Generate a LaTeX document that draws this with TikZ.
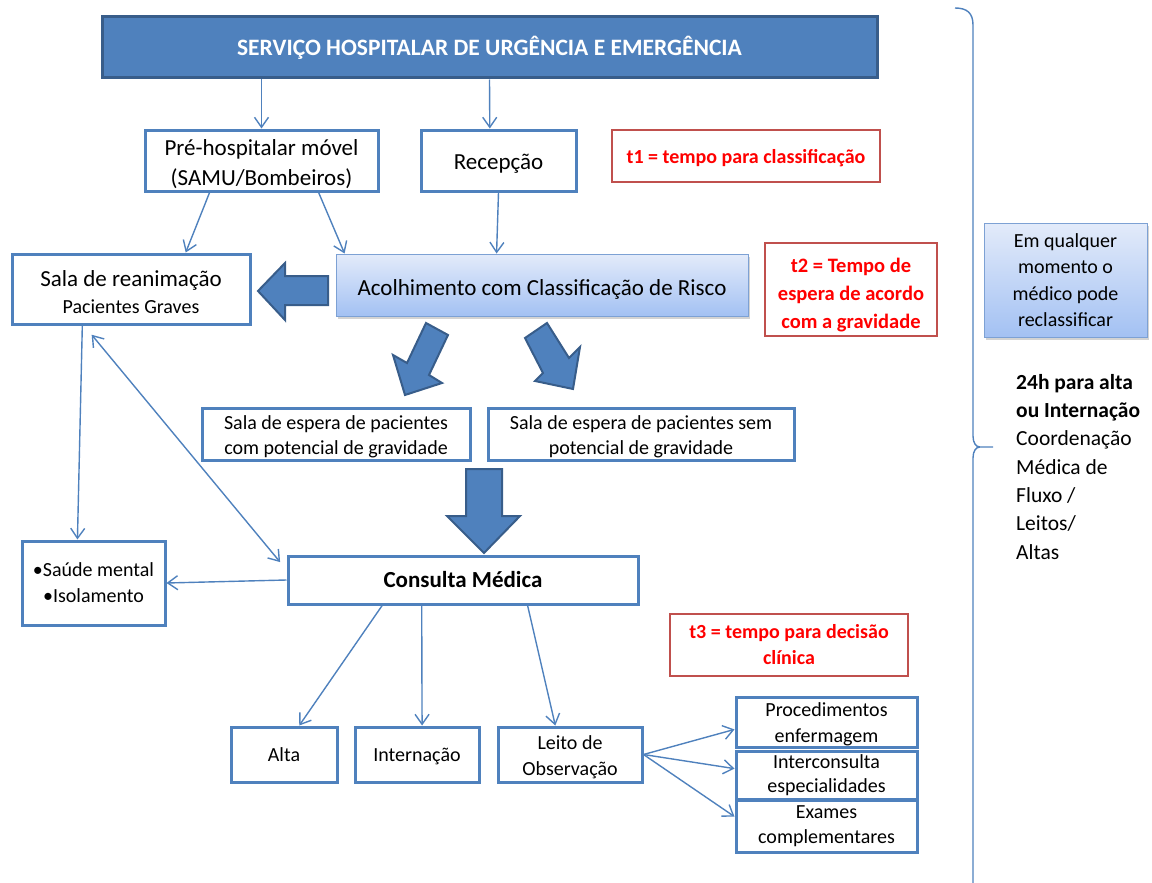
\documentclass[tikz,border=0pt]{standalone}
\usepackage{fontspec}
\setmainfont{Carlito}
\usetikzlibrary{arrows.meta,calc,shadows}
\definecolor{bblue}{HTML}{4F81BD}
\definecolor{dblue}{HTML}{385D8A}
\definecolor{rborder}{HTML}{C0504D}
\definecolor{rtext}{HTML}{FF0000}
\definecolor{gtop}{HTML}{E3EBFA}
\definecolor{gbot}{HTML}{A3C1F3}
\definecolor{gline}{HTML}{7DA1D4}
\newcommand{\lowr}[1]{\rule{0pt}{#1}}
\tikzset{
  box/.style={draw=bblue, line width=3pt, fill=white, align=center, inner sep=0pt},
  tbox/.style={draw=rborder, line width=2.5pt, fill=white, align=center, inner sep=0pt, text=rtext, font=\bfseries\fontsize{20}{26}\selectfont},
  gbox/.style={draw=gline, line width=1pt, top color=gtop, bottom color=gbot, align=center, inner sep=0pt,
     drop shadow={shadow xshift=2pt, shadow yshift=-3pt, opacity=0.35}},
  conn/.style={draw=bblue, line width=1.4pt, -{Straight Barb[length=10pt,width=14pt]}},
  bigarrow/.style={fill=bblue, draw=dblue, line width=2pt, line join=miter},
  fs20/.style={font=\fontsize{20}{26}\selectfont},
  fs23/.style={font=\fontsize{23}{30}\selectfont},
}
\begin{document}
\begin{tikzpicture}[x=1pt,y=-1pt]
\useasboundingbox (0,0) rectangle (1152,883);

% title
\node[fill=bblue, draw=dblue, line width=3pt, minimum width=775pt, minimum height=61pt, text=white,
  font=\bfseries\fontsize{23.5}{28}\selectfont, inner sep=0pt] (title) at (489.5,47.5) {\lowr{20pt}SERVIÇO HOSPITALAR DE URGÊNCIA E EMERGÊNCIA};

\node[box, fs23, minimum width=233pt, minimum height=61pt] (pre) at (261.5,160.5) {\lowr{23pt}Pré-hospitalar móvel\\(SAMU/Bombeiros)};
\node[box, fs23, minimum width=155pt, minimum height=61pt] (rec) at (498.5,160.5) {\lowr{21pt}Recepção};
\node[tbox, minimum width=268pt, minimum height=52pt] (t1) at (746,156) {\lowr{18.5pt}t1 = tempo para classificação};

\node[box, font=\fontsize{20}{27}\selectfont, minimum width=238pt, minimum height=70pt] (sala) at (131,289)
  {{\fontsize{23}{28}\selectfont\lowr{23pt}Sala de reanimação}\\Pacientes Graves};
\node[gbox, fs23, minimum width=412pt, minimum height=62pt] (acol) at (542,285) {\lowr{24pt}Acolhimento com Classificação de Risco};
\node[tbox, font=\bfseries\fontsize{20.5}{28}\selectfont, minimum width=172pt, minimum height=93pt] (t2) at (851,289.5)
  {\lowr{25pt}t2 = Tempo de\\espera de acordo\\com a gravidade};

\node[box, font=\fontsize{20}{25}\selectfont, minimum width=268pt, minimum height=52pt] (espc) at (336,434)
  {\lowr{20pt}Sala de espera de pacientes\\com potencial de gravidade};
\node[box, font=\fontsize{20}{25}\selectfont, minimum width=306pt, minimum height=52pt] (esps) at (641,434)
  {\lowr{20pt}Sala de espera de pacientes sem\\potencial de gravidade};

\node[box, font=\bfseries\fontsize{23}{28}\selectfont, minimum width=350pt, minimum height=48pt] (cons) at (463,580) {Consulta Médica};
\node[box, font=\fontsize{20}{26}\selectfont, minimum width=143pt, minimum height=84pt] (saude) at (93.5,583)
  {•Saúde mental\\•Isolamento};
\node[tbox, minimum width=238pt, minimum height=62pt] (t3) at (789,645) {t3 = tempo para decisão\\clínica};

\node[box, fs20, minimum width=106pt, minimum height=55pt] (alta) at (284,754.5) {Alta};
\node[box, fs20, minimum width=124pt, minimum height=55pt] (intern) at (417,754.5) {\lowr{17pt}Internação};
\node[box, font=\fontsize{20}{26}\selectfont, minimum width=144pt, minimum height=55pt] (leito) at (570,754.5) {\lowr{19pt}Leito de\\Observação};

\node[box, font=\fontsize{20}{26}\selectfont, minimum width=181pt, minimum height=50pt] (proc) at (826.5,722) {\lowr{19pt}Procedimentos\\enfermagem};
\node[box, font=\fontsize{20}{24}\selectfont, minimum width=181pt, minimum height=48pt] (inter) at (826.5,775) {Interconsulta\\especialidades};
\node[box, font=\fontsize{20}{25}\selectfont, minimum width=181pt, minimum height=52pt] (exam) at (826.5,826) {Exames\\complementares};

\node[gbox, font=\fontsize{20}{26.5}\selectfont, minimum width=163pt, minimum height=114pt] (emq) at (1065.5,280)
  {Em qualquer\\momento o\\médico pode\\reclassificar};

\node[anchor=north west, align=left, inner sep=0pt, font=\fontsize{21.5}{28.3}\selectfont] (coord) at (1016,374)
  {\textbf{24h para alta}\\\textbf{ou Internação}\\Coordenação\\Médica de\\Fluxo /\\Leitos/\\Altas};

% connectors
\draw[conn] (title.south -| pre.north) -- (pre.north);
\draw[conn] (title.south) -- ($(rec.north west)!0.445!(rec.north east)$);
\draw[conn] ($(pre.south west)!0.28!(pre.south east)$) -- ($(sala.north west)!0.727!(sala.north east)$);
\draw[conn] ($(pre.south west)!0.742!(pre.south east)$) -- ($(acol.north west)!0.022!(acol.north east)$);
\draw[conn] (rec.south) -- ($(acol.north west)!0.39!(acol.north east)$);
\draw[conn] ($(sala.south west)!0.298!(sala.south east)$) -- ($(saude.north west)!0.39!(saude.north east)$);
\draw[conn, {Straight Barb[length=10pt,width=14pt]}-{Straight Barb[length=10pt,width=14pt]}, shorten <=12pt, shorten >=10pt]
  ($(sala.south west)!0.305!(sala.south east)$) -- ($(cons.north west)!0.3!(cons.south west)$);
\draw[conn] (cons.west) -- (saude.east);
\draw[conn] ($(cons.south west)!0.271!(cons.south east)$) -- ($(alta.north west)!0.64!(alta.north east)$);
\draw[conn] ($(cons.south west)!0.383!(cons.south east)$) -- ($(intern.north west)!0.54!(intern.north east)$);
\draw[conn] ($(cons.south west)!0.683!(cons.south east)$) -- ($(leito.north west)!0.40!(leito.north east)$);
\draw[conn] (leito.east) -- ($(proc.north west)!0.64!(proc.south west)$);
\draw[conn] (leito.east) -- ($(inter.north west)!0.375!(inter.south west)$);
\draw[conn] (leito.east) -- ($(exam.north west)!0.33!(exam.south west)$);

% big block arrows
\draw[bigarrow] (328,276) -- (285,276) -- (285,263) -- (258,291) -- (285,320) -- (285,305) -- (328,305) -- cycle;
\draw[bigarrow] (426,323) -- (448,335) -- (429,375) -- (442,383) -- (405,395) -- (393,355) -- (407,363) -- cycle;
\draw[bigarrow] (525,338) -- (547,323) -- (569,358) -- (580,347) -- (573,389) -- (535,381) -- (543,373) -- cycle;
\draw[bigarrow] (466,469) -- (502,469) -- (502,516) -- (520,516) -- (484,553) -- (447,516) -- (466,516) -- cycle;

% brace
\draw[bblue, line width=1.4pt] (955,8) .. controls (967,8) and (973,13) .. (973,25) -- (973,436)
  .. controls (973,443) and (976,447) .. (980,447) -- (993,447)
  (980,447) .. controls (976,447) and (973,451) .. (973,458) -- (973,883);
\end{tikzpicture}
\end{document}
